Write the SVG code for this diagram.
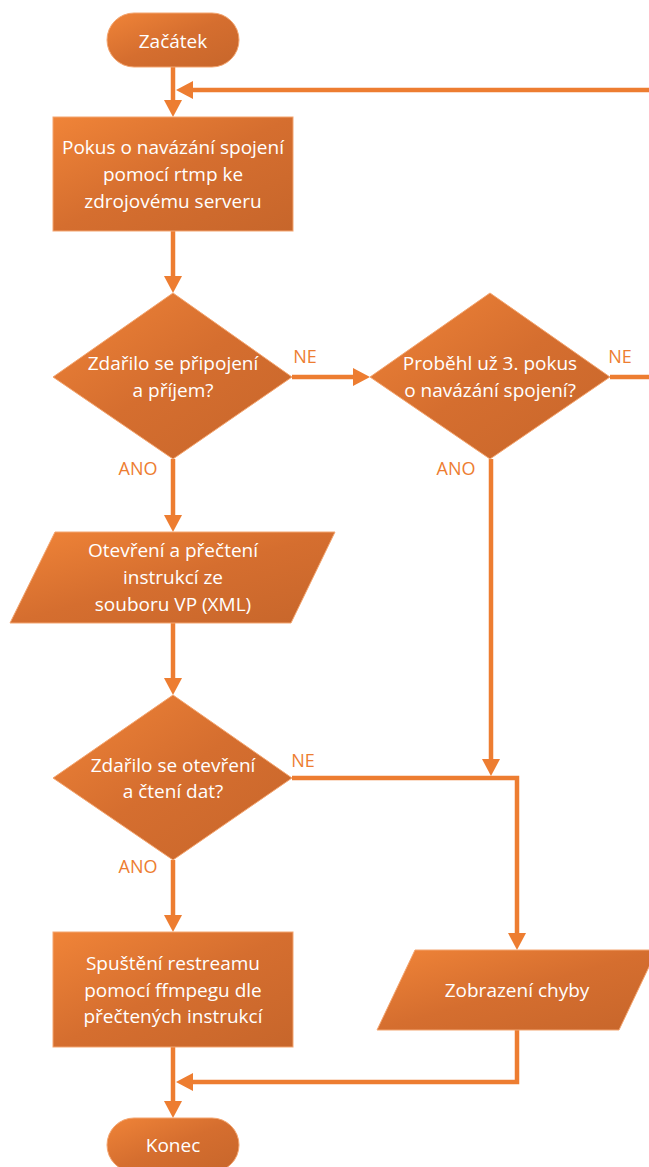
<svg xmlns="http://www.w3.org/2000/svg" width="649" height="1167" viewBox="0 0 649 1167">
<style>
.node{fill:url(#g);stroke:#F3A570;stroke-width:1}
.t{font-family:"Open Sans","Noto Sans","Liberation Sans",sans-serif;font-size:19px;fill:#FFFFFF;text-anchor:middle}
.lbl{font-family:"Open Sans","Noto Sans","Liberation Sans",sans-serif;font-size:18px;fill:#ED7D31;text-anchor:middle}
.c{fill:none;stroke:#ED7D31;stroke-width:4.5;stroke-linejoin:miter;marker-end:url(#arr)}
.cn{fill:none;stroke:#ED7D31;stroke-width:4.5;stroke-linejoin:miter}
</style>
<defs>
<linearGradient id="g" x1="0" y1="0" x2="1" y2="1">
<stop offset="0" stop-color="#F08438"/>
<stop offset="0.5" stop-color="#D56E2F"/>
<stop offset="1" stop-color="#C7662B"/>
</linearGradient>
<marker id="arr" markerUnits="userSpaceOnUse" markerWidth="18" markerHeight="18" viewBox="0 0 18 18" refX="1" refY="9" orient="auto">
<path d="M0,0 L17,9 L0,18 z" fill="#ED7D31"/>
</marker>
</defs>
<g id="connectors">
<path class="c" d="M173 67 V101"/>
<path class="c" d="M610 377 H662 V90 H192"/>
<path class="c" d="M173 231 V277"/>
<path class="c" d="M292 377 H354"/>
<path class="c" d="M173 459 V516"/>
<path class="c" d="M173 623 V679"/>
<path class="c" d="M491 459 V760"/>
<path class="c" d="M292 778 H517 V934"/>
<path class="c" d="M173 860 V916"/>
<path class="c" d="M517 1030 V1082 H192"/>
<path class="c" d="M173 1047 V1102"/>
</g>
<g id="labels">
<text class="lbl" x="305" y="363">NE</text>
<text class="lbl" x="620" y="363">NE</text>
<text class="lbl" x="138" y="475">ANO</text>
<text class="lbl" x="456" y="475">ANO</text>
<text class="lbl" x="303" y="767">NE</text>
<text class="lbl" x="138" y="873">ANO</text>
</g>
<g id="start">
<rect class="node" x="107" y="13" width="132" height="54" rx="27" ry="27"/>
<text class="t" x="173" y="48">Začátek</text>
</g>
<g id="connect">
<rect class="node" x="53" y="117" width="240" height="114"/>
<text class="t" x="173" y="154">Pokus o navázání spojení</text>
<text class="t" x="173" y="181">pomocí rtmp ke</text>
<text class="t" x="173" y="208">zdrojovému serveru</text>
</g>
<g id="decision1">
<polygon class="node" points="173,293 292,377 173,459 53,377"/>
<text class="t" x="173" y="370">Zdařilo se připojení</text>
<text class="t" x="173" y="397">a příjem?</text>
</g>
<g id="decision2">
<polygon class="node" points="490,293 610,377 490,459 370,377"/>
<text class="t" x="490" y="370">Proběhl už 3. pokus</text>
<text class="t" x="490" y="397">o navázání spojení?</text>
</g>
<g id="read">
<polygon class="node" points="55,532 335,532 291,623 10,623"/>
<text class="t" x="173" y="557">Otevření a přečtení</text>
<text class="t" x="173" y="584">instrukcí ze</text>
<text class="t" x="173" y="611">souboru VP (XML)</text>
</g>
<g id="decision3">
<polygon class="node" points="173,695 292,778 173,860 53,778"/>
<text class="t" x="173" y="772">Zdařilo se otevření</text>
<text class="t" x="173" y="798">a čtení dat?</text>
</g>
<g id="restream">
<rect class="node" x="53" y="932" width="240" height="115"/>
<text class="t" x="173" y="970">Spuštění restreamu</text>
<text class="t" x="173" y="997">pomocí ffmpegu dle</text>
<text class="t" x="173" y="1023">přečtených instrukcí</text>
</g>
<g id="error">
<polygon class="node" points="415,950 657,950 619,1030 377,1030"/>
<text class="t" x="517" y="997">Zobrazení chyby</text>
</g>
<g id="end">
<rect class="node" x="107" y="1118" width="132" height="54" rx="27" ry="27"/>
<text class="t" x="173" y="1152">Konec</text>
</g>
</svg>
